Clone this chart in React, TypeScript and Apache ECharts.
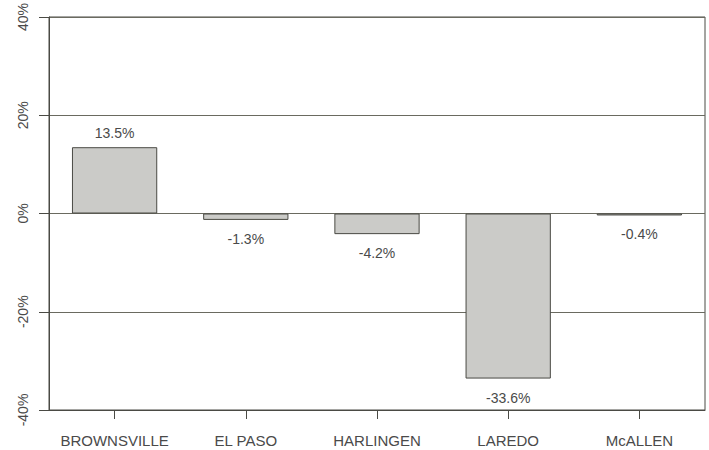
import React, { useEffect, useRef } from "react";
import * as echarts from "echarts";

const categories = ["BROWNSVILLE", "EL PASO", "HARLINGEN", "LAREDO", "McALLEN"];
const values = [13.5, -1.3, -4.2, -33.6, -0.4];
const yTicks = { min: -40, max: 40, interval: 20 };

const FONT = "'Liberation Sans', Arial, Helvetica, sans-serif";
const LINE = "#4a4a44";
const TEXT = "#4a4a4a";

export default function App() {
  const ref = useRef<HTMLDivElement>(null);
  useEffect(() => {
    if (!ref.current) return;
    const chart = echarts.init(ref.current, undefined, { renderer: "svg" });
    chart.setOption({
      animation: false,
      backgroundColor: "#ffffff",
      grid: {
        left: 49,
        right: 4,
        top: 17,
        bottom: 40,
        show: true,
        borderColor: LINE,
        borderWidth: 1,
        backgroundColor: "transparent",
      },
      xAxis: {
        type: "category",
        data: categories,
        position: "bottom",
        axisLine: { onZero: false, lineStyle: { color: LINE, width: 1 } },
        axisTick: { show: true, alignWithLabel: true, interval: 0, length: 9, lineStyle: { color: LINE, width: 1 } },
        axisLabel: { color: TEXT, fontFamily: FONT, fontSize: 15, margin: 23, interval: 0, hideOverlap: false },
        splitLine: { show: false },
      },
      yAxis: {
        type: "value",
        min: yTicks.min,
        max: yTicks.max,
        interval: yTicks.interval,
        axisLine: { show: true, lineStyle: { color: LINE, width: 1 } },
        axisTick: { show: true, length: 10, lineStyle: { color: LINE } },
        axisLabel: {
          color: TEXT,
          fontFamily: FONT,
          fontSize: 14,
          rotate: 90,
          margin: 19,
          formatter: "{value}%",
        },
        splitLine: { show: true, lineStyle: { color: "#6a6a60", width: 1 } },
      },
      series: [
        {
          type: "bar",
          data: values.map((v) => ({
            value: v,
            label: { distance: v >= 0 ? 7 : 12 },
          })),
          barWidth: "65%",
          itemStyle: {
            color: "#cbcbc8",
            borderColor: "#4a4a44",
            borderWidth: 1,
          },
          label: {
            show: true,
            position: "outside",
            color: TEXT,
            fontFamily: FONT,
            fontSize: 14,
            formatter: (p: any) => p.value.toFixed(1) + "%",
          },
        },
      ],
    });
    return () => chart.dispose();
  }, []);
  return <div ref={ref} style={{ width: 709, height: 450, position: "absolute", left: 0, top: 0 }} />;
}
